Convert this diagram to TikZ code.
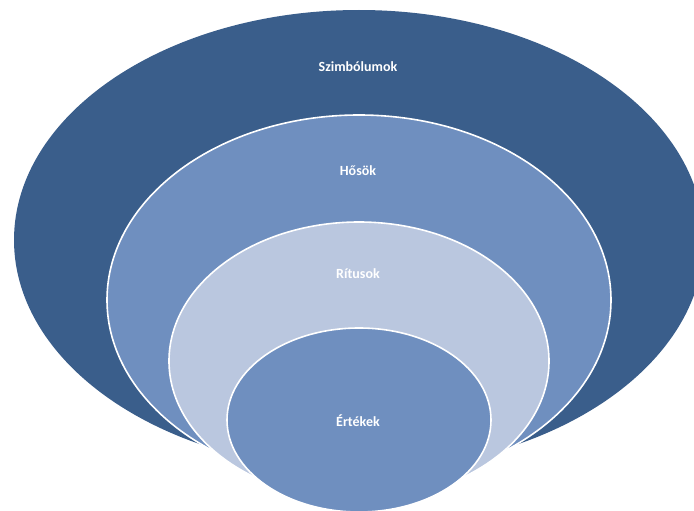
\documentclass[tikz,border=0pt]{standalone}
\usepackage{fontspec}
\setmainfont{Carlito}
\definecolor{ringdark}{RGB}{58,94,139}
\definecolor{ringmid}{RGB}{111,143,191}
\definecolor{ringlight}{RGB}{186,199,223}
\begin{document}
\begin{tikzpicture}[x=1pt,y=-1pt,
  ring/.style={draw=white,line width=1.6pt},
  lbl/.style={text=white,font=\bfseries\fontsize{14}{16}\selectfont,inner sep=0pt}]
\useasboundingbox (0,0) rectangle (694,511);
\clip (0,0) rectangle (694,511);
\fill[ringdark] (359,240) ellipse [x radius=345, y radius=230];
\filldraw[ring,fill=ringmid] (359,300) ellipse [x radius=252, y radius=185];
\filldraw[ring,fill=ringlight] (359,361) ellipse [x radius=190, y radius=139];
\filldraw[ring,fill=ringmid] (359,420) ellipse [x radius=132, y radius=92];
\node[lbl] (szimb) at (358,67) {Szimbólumok};
\node[lbl] (hosok) at (358,171) {Hősök};
\node[lbl] (ritus) at (358,274) {Rítusok};
\node[lbl] (ertek) at (358,421) {Értékek};
\end{tikzpicture}
\end{document}
